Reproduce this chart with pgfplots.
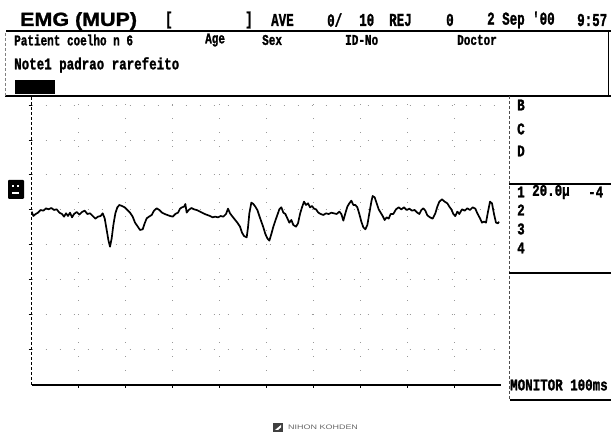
\documentclass[border=0pt]{standalone}
\usepackage{pgfplots}
\pgfplotsset{compat=1.18}
\usepackage{graphicx}
\usepackage{fontspec}
\setmainfont{Liberation Sans}
\newfontfamily\mono[FakeBold=1.6]{Liberation Mono Bold}
\newfontfamily\ttl[FakeBold=1.2]{Liberation Sans Bold}
\newcommand{\hd}[1]{\scalebox{1}[1.45]{\fontsize{12.5}{12.5}\selectfont\mono #1}}
\newcommand{\rw}[1]{\scalebox{1}[1.35]{\fontsize{11}{11}\selectfont\mono #1}}
\newcommand{\nt}[1]{\scalebox{1}[1.3]{\fontsize{12.5}{12.5}\selectfont\mono #1}}
\begin{document}
\begin{tikzpicture}
\useasboundingbox (0,0) rectangle (611pt,435pt);
\fill[white] (0,0) rectangle (611pt,435pt);
\begin{axis}[at={(31.7pt,339pt)}, anchor=north west, scale only axis,
  width=469.3pt, height=289pt,
  xmin=95, xmax=1503, ymin=-885, ymax=-18,
  axis x line*=bottom, axis y line*=left,
  x axis line style={line width=1.6pt,-},
  y axis line style={line width=0.6pt,densely dashed,-},
  xtick={235.8,376.6,517.4,658.2,799,939.8,1080.6,1221.4,1362.2},
  ytick={-47,-152,-255,-360,-465,-570,-675,-778},
  xticklabels={}, yticklabels={},
  tick align=outside, major tick length=3pt,
  every tick/.style={black,line width=1pt},
  grid=major,
  major grid style={black!40,line width=1pt,dash pattern=on 1pt off 13pt},
  clip=false]
\addplot[black, line width=1.7pt, line join=round, no markers] coordinates {
(95,-365)(100,-378)(107,-372)(114,-368)(122,-360)(130,-362)(138,-355)(146,-358)
(154,-354)(162,-360)(170,-358)(178,-368)(186,-372)(192,-380)(198,-370)(204,-378)
(210,-368)(216,-382)(222,-372)(230,-366)(238,-374)(246,-366)(254,-362)(262,-372)
(270,-370)(278,-378)(286,-386)(294,-380)(302,-378)(308,-370)(314,-385)(320,-420)
(325,-450)(330,-470)(335,-445)(340,-405)(346,-370)(352,-352)(358,-345)(366,-348)
(374,-352)(382,-360)(390,-368)(398,-380)(405,-398)(412,-408)(420,-420)(428,-418)
(434,-400)(440,-385)(447,-380)(455,-375)(462,-362)(470,-355)(478,-360)(486,-368)
(494,-372)(502,-375)(510,-378)(518,-380)(526,-372)(534,-368)(540,-356)(546,-352)
(552,-350)(556,-342)(560,-368)(566,-360)(574,-354)(582,-358)(590,-360)(598,-364)
(606,-368)(614,-372)(622,-375)(630,-378)(638,-382)(646,-380)(654,-382)(662,-378)
(670,-380)(678,-372)(684,-356)(690,-370)(696,-378)(704,-388)(712,-398)(720,-410)
(726,-428)(732,-438)(740,-442)(744,-412)(748,-370)(754,-338)(760,-342)(766,-350)
(772,-360)(778,-378)(784,-395)(790,-412)(796,-432)(802,-445)(808,-452)(814,-432)
(820,-410)(826,-392)(832,-375)(838,-358)(844,-352)(850,-368)(856,-372)(862,-385)
(868,-398)(874,-390)(880,-405)(888,-410)(894,-400)(900,-372)(906,-352)(912,-335)
(918,-345)(924,-340)(930,-352)(936,-348)(942,-356)(948,-358)(955,-368)(962,-372)
(970,-375)(978,-370)(986,-372)(994,-368)(1002,-370)(1010,-372)(1018,-365)(1024,-372)
(1030,-392)(1036,-370)(1042,-350)(1048,-340)(1054,-332)(1060,-345)(1066,-345)(1072,-352)
(1078,-372)(1084,-395)(1090,-412)(1096,-418)(1102,-405)(1108,-370)(1114,-335)(1118,-318)
(1124,-322)(1130,-340)(1136,-358)(1142,-368)(1148,-378)(1154,-390)(1160,-382)(1166,-386)
(1172,-372)(1180,-372)(1188,-358)(1196,-352)(1204,-358)(1212,-352)(1220,-360)(1228,-356)
(1236,-362)(1244,-360)(1252,-368)(1258,-372)(1264,-360)(1270,-355)(1276,-362)(1282,-376)
(1290,-382)(1298,-386)(1306,-370)(1312,-350)(1318,-335)(1326,-328)(1334,-335)(1342,-340)
(1348,-350)(1354,-358)(1360,-372)(1366,-378)(1372,-365)(1378,-372)(1386,-358)(1394,-362)
(1402,-355)(1410,-360)(1418,-352)(1426,-356)(1432,-370)(1440,-385)(1446,-398)(1452,-395)
(1458,-398)(1464,-365)(1470,-335)(1476,-340)(1482,-372)(1488,-398)(1494,-400)(1497,-395)
};
\end{axis}
\begin{scope}[x=1pt,y=-1pt,shift={(0pt,435pt)}]
% frame lines
\draw[line width=1.3pt] (6,31) -- (611,31);
\draw[line width=1.3pt] (5,96) -- (611,96);
\draw[line width=1pt] (608,31) -- (608,96);
\draw[black!50,line width=0.6pt,densely dashed] (5,33) -- (5,96);
\draw[black!70,line width=0.7pt,densely dashed] (509,96) -- (509,400);
\draw[line width=1.3pt] (509,184) -- (611,184);
\draw[line width=1.3pt] (509,273) -- (611,273);
\draw[line width=1.3pt] (510,400) -- (611,400);
% header
\node[anchor=west,inner sep=0] at (20,21) {\scalebox{1.13}[1]{\fontsize{19}{19}\selectfont\ttl EMG (MUP)}};
\node[anchor=west,inner sep=0] at (165,20) {\hd{[}};
\node[anchor=west,inner sep=0] at (245,20) {\hd{]}};
\node[anchor=west,inner sep=0] at (271,20) {\hd{AVE}};
\node[anchor=west,inner sep=0] at (327,20) {\hd{0/}};
\node[anchor=west,inner sep=0] at (359,20) {\hd{10}};
\node[anchor=west,inner sep=0] at (389,20) {\hd{REJ}};
\node[anchor=west,inner sep=0] at (446,20) {\hd{0}};
\node[anchor=west,inner sep=0] at (487,20) {\hd{2 Sep '00}};
\node[anchor=west,inner sep=0] at (577,20) {\hd{9:57}};
% row 2
\node[anchor=west,inner sep=0] at (14,40) {\rw{Patient coelho n 6}};
\node[anchor=west,inner sep=0] at (205,40) {\rw{Age}};
\node[anchor=west,inner sep=0] at (262,40) {\rw{Sex}};
\node[anchor=west,inner sep=0] at (345,40) {\rw{ID-No}};
\node[anchor=west,inner sep=0] at (457,40) {\rw{Doctor}};
% note
\node[anchor=west,inner sep=0] at (14,65) {\nt{Note1 padrao rarefeito}};
\fill (15,80) rectangle (55,94);
% left marker
\fill[rounded corners=1pt] (8,180) rectangle (24,199);
\fill[white] (12,185) rectangle (14,187);
\fill[white] (17,185) rectangle (19,187);
\fill[white] (12,192) rectangle (19,194);
% right panel
\node[anchor=west,inner sep=0] at (517,105) {\nt{B}};
\node[anchor=west,inner sep=0] at (517,129) {\nt{C}};
\node[anchor=west,inner sep=0] at (517,151) {\nt{D}};
\node[anchor=west,inner sep=0] at (517,192) {\nt{1}};
\node[anchor=west,inner sep=0] at (532,192) {\nt{20.0µ}};
\node[anchor=west,inner sep=0] at (588,192) {\nt{-4}};
\node[anchor=west,inner sep=0] at (517,210) {\nt{2}};
\node[anchor=west,inner sep=0] at (517,229) {\nt{3}};
\node[anchor=west,inner sep=0] at (517,248) {\nt{4}};
\node[anchor=west,inner sep=0] at (510,385) {\nt{MONITOR 100ms}};
% logo
\fill[black!75] (273,423) rectangle (283,432);
\fill[white] (275,430) -- (281,425) -- (281,427.5) -- (278,430) -- cycle;
\node[anchor=west,inner sep=0] at (288,427.5) {\color{black!60}\scalebox{1.38}[1]{\fontsize{6.5}{6.5}\selectfont NIHON KOHDEN}};
\end{scope}
\end{tikzpicture}
\end{document}
